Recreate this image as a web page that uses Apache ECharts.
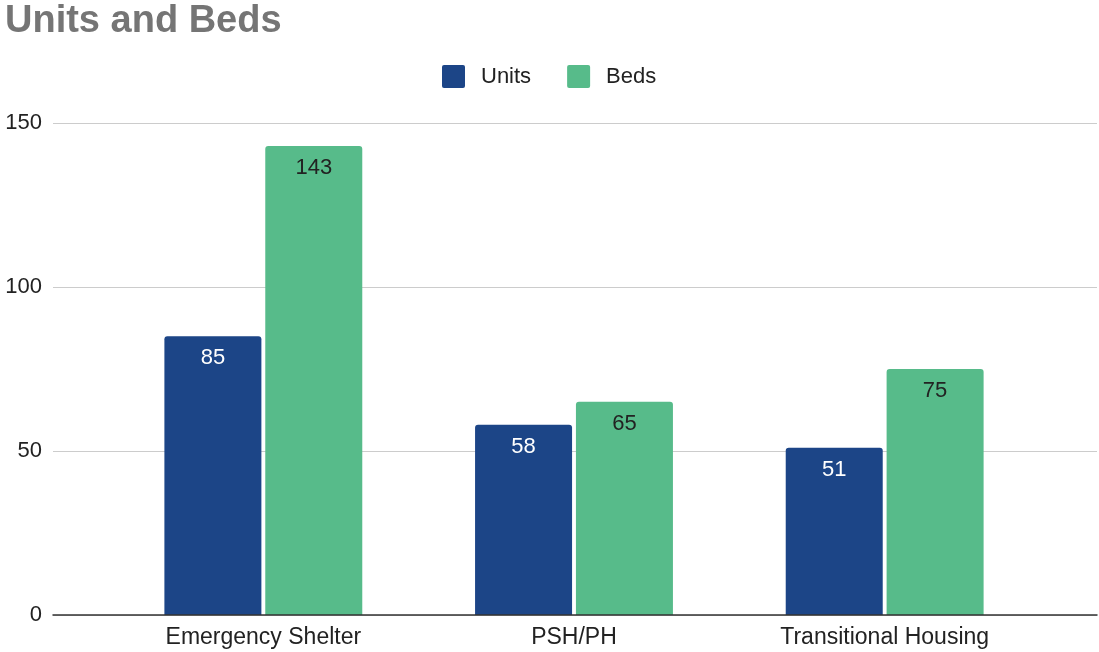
<!DOCTYPE html>
<html><head><meta charset="utf-8">
<script src="https://cdn.jsdelivr.net/npm/echarts@6/dist/echarts.min.js"></script>
<style>html,body{margin:0;padding:0;background:#fff}#c{width:1099px;height:652px}</style>
</head><body><div id="c"></div>
<script>
const categories = ['Emergency Shelter', 'PSH/PH', 'Transitional Housing'];
const units = [85, 58, 51];
const beds = [143, 65, 75];
const yTicks = [0, 50, 100, 150];

const FONT = 'Liberation Sans, Arial, sans-serif';
const ICON = 'path://M2,0 H21 Q23,0 23,2 V21 Q23,23 21,23 H2 Q0,23 0,21 V2 Q0,0 2,0 Z';
const chart = echarts.init(document.getElementById('c'));
chart.setOption({
  animation: false,
  title: {text: 'Units and Beds', left: 0, top: -2,
    textStyle: {fontSize: 38, fontWeight: 'bold', color: '#757575', fontFamily: FONT}},
  legend: {left: 437, top: 60, itemWidth: 23, itemHeight: 23, itemGap: 36, icon: ICON,
    textStyle: {fontSize: 22, color: '#222', fontFamily: FONT, padding: [0, 0, 0, 11]},
    data: ['Units', 'Beds']},
  grid: [
    {left: 53, right: 2, top: 123, bottom: 37},
    {left: 108, right: 59, top: 123, bottom: 37}
  ],
  xAxis: [
    {type: 'category', gridIndex: 0, data: [''], axisLine: {show: true, lineStyle: {color: '#333', width: 1.5}},
      axisTick: {show: false}, axisLabel: {show: false}, z: 10},
    {type: 'category', gridIndex: 1, data: categories, axisLine: {show: false}, axisTick: {show: false},
      axisLabel: {fontSize: 23, color: '#222', fontFamily: FONT, margin: 11}}
  ],
  yAxis: [
    {type: 'value', gridIndex: 0, min: yTicks[0], max: yTicks[yTicks.length - 1], interval: 50,
      axisLine: {show: false}, axisTick: {show: false},
      axisLabel: {fontSize: 22, color: '#222', fontFamily: FONT, margin: 11},
      splitLine: {lineStyle: {color: '#cccccc', width: 1}}},
    {type: 'value', gridIndex: 1, min: 0, max: 150, show: false, splitLine: {show: false}}
  ],
  series: [
    {name: 'Units', type: 'bar', xAxisIndex: 1, yAxisIndex: 1, data: units, barWidth: 97, barGap: '4%',
      itemStyle: {color: '#1c4587', borderRadius: [3, 3, 0, 0]},
      label: {show: true, position: 'insideTop', distance: 11, fontSize: 22, color: '#ffffff', fontFamily: FONT}},
    {name: 'Beds', type: 'bar', xAxisIndex: 1, yAxisIndex: 1, data: beds, barWidth: 97, barGap: '4%',
      itemStyle: {color: '#57bb8a', borderRadius: [3, 3, 0, 0]},
      label: {show: true, position: 'insideTop', distance: 11, fontSize: 22, color: '#222222', fontFamily: FONT}}
  ]
});
</script></body></html>
